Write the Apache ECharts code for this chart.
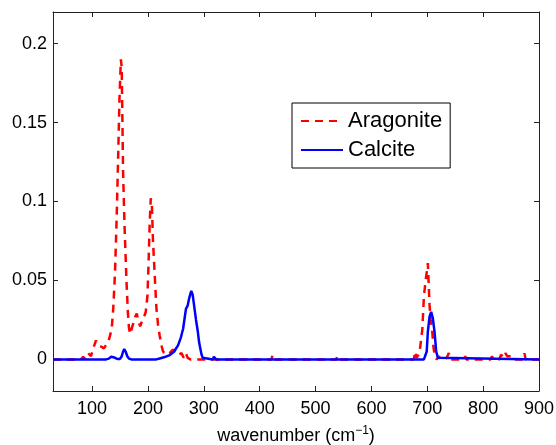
<!DOCTYPE html>
<html>
<head>
<meta charset="utf-8">
<script src="https://cdn.jsdelivr.net/npm/echarts@6/dist/echarts.min.js"></script>
<style>html,body{margin:0;padding:0;background:#fff}#c{width:556px;height:445px}</style>
</head>
<body>
<div id="c"></div>
<script>
const aragoniteX = [30, 80, 84, 88, 93, 98, 103, 107, 111, 117, 121, 125, 129, 132, 135, 138, 141, 144, 146.6, 149, 151.5, 153, 155.5, 158, 161.5, 164, 166, 168, 170.5, 173, 177, 180, 183, 186, 189, 192, 196, 199, 201, 203, 205, 207, 209, 212, 215, 218, 221, 224, 227, 232, 239, 244, 248, 252, 256, 260, 264, 268, 271, 276, 421, 423, 425, 537, 539, 541, 676, 678, 681, 686, 691, 694, 697, 699, 701, 702.5, 704, 706, 708.7, 711, 713.5, 717, 721, 724, 727, 730, 735, 738.5, 741, 766, 768, 770, 788, 790, 792, 813, 816, 818, 829, 832, 834, 837, 840, 843, 846, 851, 854, 872, 874, 876, 900];
const aragoniteY = [0, 0, 0.0017, 0, 0.004, 0.002, 0.008, 0.012, 0.009, 0.008, 0.007, 0.009, 0.011, 0.012, 0.019, 0.033, 0.055, 0.09, 0.128, 0.165, 0.19, 0.185, 0.118, 0.085, 0.05, 0.03, 0.02, 0.016, 0.017, 0.022, 0.027, 0.029, 0.024, 0.021, 0.024, 0.026, 0.03, 0.04, 0.06, 0.085, 0.102, 0.098, 0.075, 0.054, 0.033, 0.022, 0.015, 0.009, 0.005, 0.003, 0.004, 0.006, 0.006, 0.004, 0.003, 0.004, 0.001, 0.004, 0.001, 0, 0, 0.0027, 0, 0, 0.002, 0, 0, 0.005, 0.001, 0.004, 0.0185, 0.04, 0.05, 0.055, 0.061, 0.06, 0.035, 0.025, 0.0185, 0.008, 0.002, 0, 0.002, 0, 0.001, 0, 0.001, 0.004, 0, 0, 0.002, 0, 0, 0.001, 0, 0, 0.002, 0, 0, 0.003, 0.004, 0.001, 0.004, 0.002, 0.001, 0.002, 0, 0, 0.004, 0, 0];
const calciteX = [30, 125, 130, 134, 137, 140, 145, 150, 153, 155.5, 157.5, 160, 163, 166, 170, 215, 221, 230, 239, 247, 254, 259, 263, 266, 268, 271, 274, 277.5, 280, 283.4, 286, 289.3, 291.5, 293.6, 296, 298, 301, 316, 318, 320, 322, 690, 692, 694, 696, 699, 701, 704, 707, 710, 713, 716, 719, 722, 900];
const calciteY = [0, 0, 0.0005, 0.0017, 0.001, 0.0012, 0.0003, 0.0003, 0.002, 0.005, 0.0065, 0.005, 0.002, 0.0005, 0, 0, 0.0006, 0.0015, 0.0027, 0.005, 0.009, 0.014, 0.0196, 0.027, 0.032, 0.034, 0.039, 0.0434, 0.041, 0.032, 0.025, 0.0175, 0.011, 0.007, 0.003, 0.001, 0, 0, 0.0017, 0.0005, 0, 0, 0.0012, 0, 0, 0.005, 0.0175, 0.027, 0.0301, 0.026, 0.0175, 0.005, 0.001, 0, 0];
const xTicks = [100, 200, 300, 400, 500, 600, 700, 800, 900];
const yTicks = [0, 0.05, 0.1, 0.15, 0.2];
const yTickLabels = ['0', '0.05', '0.1', '0.15', '0.2'];

const FONT = 'Liberation Sans, Arial, Helvetica, sans-serif';
const AX = '#222';
const chart = echarts.init(document.getElementById('c'), null, {renderer: 'canvas'});

function pairs(xs, ys) { return xs.map((x, i) => [x, ys[i]]); }

chart.setOption({
  animation: false,
  backgroundColor: '#fff',
  grid: {left: 53, top: 12, right: 17, bottom: 54, containLabel: false, outerBoundsMode: 'none'},
  legend: {
    left: 292, top: 103,
    orient: 'vertical',
    data: ['Aragonite', 'Calcite'],
    borderColor: '#000', borderWidth: 1,
    backgroundColor: '#fff',
    padding: [7, 8, 7, 8],
    itemGap: 7,
    itemWidth: 42, itemHeight: 14,
    itemStyle: {opacity: 0},
    textStyle: {fontFamily: FONT, fontSize: 22, lineHeight: 22, color: '#000'}
  },
  xAxis: [{
    type: 'value', min: 30, max: 900, position: 'bottom',
    axisLine: {show: true, onZero: false, lineStyle: {color: AX, width: 1}},
    axisTick: {show: true, inside: true, length: 5, customValues: xTicks, lineStyle: {color: AX}},
    axisLabel: {customValues: xTicks, fontFamily: FONT, fontSize: 18, color: '#000', margin: 9},
    splitLine: {show: false},
    name: 'wavenumber (cm{sup|−1})',
    nameLocation: 'middle', nameGap: 34,
    nameTextStyle: {fontFamily: FONT, fontSize: 18, color: '#000',
      rich: {sup: {fontFamily: FONT, fontSize: 12, color: '#000', padding: [0, 0, 10, 0]}}}
  }, {
    type: 'value', min: 30, max: 900, position: 'top',
    axisLine: {show: true, onZero: false, lineStyle: {color: AX, width: 1}},
    axisTick: {show: true, inside: true, length: 5, customValues: xTicks, lineStyle: {color: AX}},
    axisLabel: {show: false},
    splitLine: {show: false}
  }],
  yAxis: [{
    type: 'value', min: -0.02, max: 0.22, position: 'left',
    axisLine: {show: true, onZero: false, lineStyle: {color: AX, width: 1}},
    axisTick: {show: true, inside: true, length: 5, customValues: yTicks, lineStyle: {color: AX}},
    axisLabel: {customValues: yTicks, fontFamily: FONT, fontSize: 18, color: '#000', margin: 6,
      formatter: v => { const i = yTicks.findIndex(t => Math.abs(t - v) < 1e-9); return i >= 0 ? yTickLabels[i] : ''; }},
    splitLine: {show: false}
  }, {
    type: 'value', min: -0.02, max: 0.22, position: 'right',
    axisLine: {show: true, onZero: false, lineStyle: {color: AX, width: 1}},
    axisTick: {show: true, inside: true, length: 5, customValues: yTicks, lineStyle: {color: AX}},
    axisLabel: {show: false},
    splitLine: {show: false}
  }],
  series: [{
    name: 'Aragonite', type: 'line', xAxisIndex: 0, yAxisIndex: 0,
    data: pairs(aragoniteX, aragoniteY),
    showSymbol: false, symbol: 'none', z: 2,
    itemStyle: {color: '#ff0000'},
    lineStyle: {color: '#ff0000', width: 2.5, type: [8, 6]}
  }, {
    name: 'Calcite', type: 'line', xAxisIndex: 0, yAxisIndex: 0,
    data: pairs(calciteX, calciteY),
    showSymbol: false, symbol: 'none', z: 3,
    itemStyle: {color: '#0000ff'},
    lineStyle: {color: '#0000ff', width: 2.5}
  }]
});
</script>
</body>
</html>
